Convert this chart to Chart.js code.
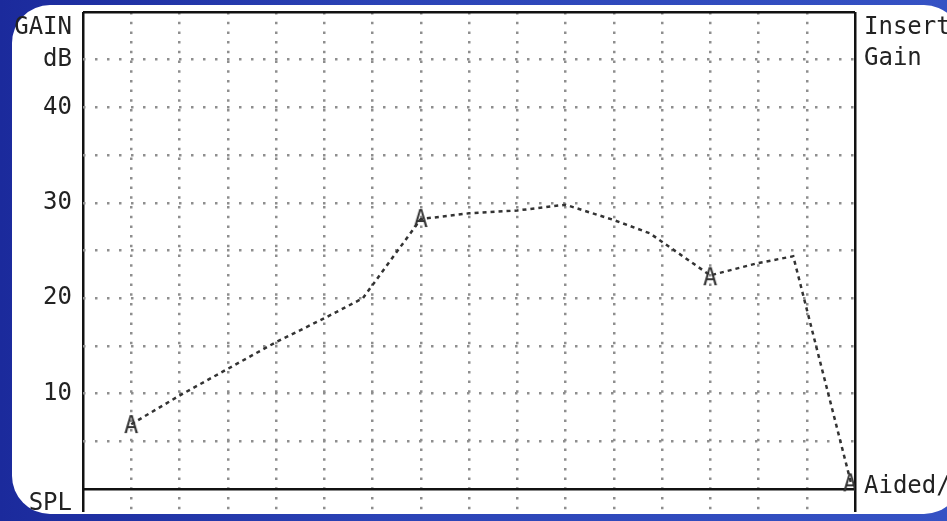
<!DOCTYPE html>
<html lang="en">
<head>
<meta charset="UTF-8">
<title>Insert Gain</title>
<script src="https://cdn.jsdelivr.net/npm/chart.js"></script>
<style>
  html, body { margin: 0; padding: 0; }
  body {
    width: 947px; height: 521px; overflow: hidden; position: relative;
    background: linear-gradient(90deg, #1b2a9c 0%, #2b43b6 40%, #3552c4 100%);
  }
  .panel {
    position: absolute; left: 12px; top: 5px; width: 950px; height: 509px;
    background: #fff; border-radius: 38px;
  }
  canvas { position: absolute; left: 0; top: 0; }
</style>
</head>
<body>
<div class="panel"></div>
<canvas id="chart" width="947" height="521"></canvas>
<script>
// curve points: x = grid column (0..16), y = gain in dB
const curveX = [1, 2, 3, 4, 5, 5.8, 7, 8, 9, 10, 11, 11.75, 13, 14, 14.72, 15.93];
const curveY = [6.8, 9.8, 12.6, 15.4, 17.9, 20.0, 28.3, 28.9, 29.2, 29.8, 28.2, 26.8, 22.4, 23.7, 24.4, 0.4];

// "A" markers
const markX = [1, 7, 13, 15.9];
const markY = [6.6, 28.2, 22.1, 0.5];

// axis text
const leftTicks = [-1.5, 10, 20, 30, 40, 45, 48.3];
const leftLabels = ['SPL', '10', '20', '30', '40', 'dB', 'GAIN'];
const gridTicks = [0, 5, 10, 15, 20, 25, 30, 35, 40, 45, 50];
const rightTicks = [0.2, 45.1, 48.4];
const rightLabels = ['Aided/', 'Gain', 'Insert'];

const DOT = '#8e8e8e';
const INK = '#222';
const MONO = 'DejaVu Sans Mono';
const Y_MIN = -2.4;

// canvas used as point style for the "A" markers
function letterA() {
  const c = document.createElement('canvas');
  c.width = 18; c.height = 26;
  const g = c.getContext('2d');
  g.font = '24px "' + MONO + '"';
  g.fillStyle = '#333';
  g.textAlign = 'center';
  g.textBaseline = 'middle';
  g.fillText('A', 9, 14);
  return c;
}

function noPad(scale) {
  scale.paddingTop = 0; scale.paddingBottom = 0;
  scale.paddingLeft = 0; scale.paddingRight = 0;
}

const allLeft = Array.from(new Set(leftTicks.concat(gridTicks))).sort((a, b) => a - b);

new Chart(document.getElementById('chart'), {
  type: 'line',
  data: {
    datasets: [{
      data: curveX.map((x, i) => ({ x: x, y: curveY[i] })),
      borderColor: '#333',
      borderWidth: 2.5,
      borderDash: [4, 4],
      pointRadius: 0,
      tension: 0
    }, {
      data: markX.map((x, i) => ({ x: x, y: markY[i] })),
      showLine: false,
      pointStyle: letterA(),
      pointRadius: 8
    }]
  },
  options: {
    responsive: false,
    animation: false,
    layout: { padding: { top: 12, bottom: 4, left: 0, right: 0 } },
    plugins: { legend: { display: false }, tooltip: { enabled: false } },
    scales: {
      x: {
        type: 'linear', min: 0, max: 16,
        ticks: { display: false, stepSize: 1, autoSkip: false },
        border: { display: false, dash: c => (c.tick && (c.tick.value === 0 || c.tick.value === 16)) ? [] : [2.5, 7.2] },
        grid: {
          drawTicks: false,
          color: c => (c.tick.value === 0 || c.tick.value === 16) ? '#111' : DOT,
          lineWidth: 2.5
        },
        afterFit: s => { s.height = 0; noPad(s); }
      },
      y: {
        type: 'linear', position: 'left', min: Y_MIN, max: 50,
        afterBuildTicks: s => { s.ticks = allLeft.map(v => ({ value: v })); },
        ticks: {
          autoSkip: false, padding: 11, color: INK,
          font: { family: MONO, size: 24 },
          callback: v => { const i = leftTicks.indexOf(v); return i < 0 ? '' : leftLabels[i]; }
        },
        border: { display: false, dash: c => (c.tick && (c.tick.value === 0 || c.tick.value === 50)) ? [] : [2.5, 9.5] },
        grid: {
          drawTicks: false,
          color: c => {
            const v = c.tick.value;
            if (gridTicks.indexOf(v) < 0) return 'rgba(0,0,0,0)';
            return (v === 0 || v === 50) ? '#111' : DOT;
          },
          lineWidth: 2.5
        },
        afterFit: s => { s.width = 83; noPad(s); }
      },
      y2: {
        type: 'linear', position: 'right', min: Y_MIN, max: 50,
        afterBuildTicks: s => { s.ticks = rightTicks.map(v => ({ value: v })); },
        ticks: {
          autoSkip: false, padding: 9, color: INK,
          font: { family: MONO, size: 24 },
          callback: v => { const i = rightTicks.indexOf(v); return i < 0 ? '' : rightLabels[i]; }
        },
        border: { display: false },
        grid: { display: false, drawOnChartArea: false, drawTicks: false },
        afterFit: s => { s.width = 92; noPad(s); }
      }
    }
  }
});
</script>
</body>
</html>
